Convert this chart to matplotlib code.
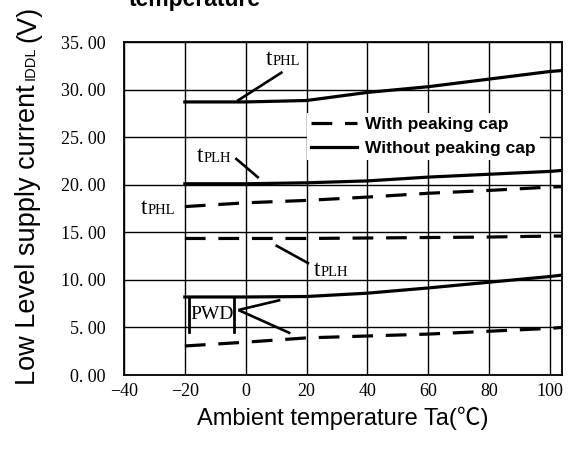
"""Supply current vs ambient temperature, with/without peaking cap."""

import matplotlib

matplotlib.use("Agg")
import matplotlib.pyplot as plt  # noqa: E402
from matplotlib.lines import Line2D  # noqa: E402

# ---- data ----
TEMP = [-20, 0, 20, 40, 60, 80, 100, 104]

NO_CAP_TPHL = [28.7, 28.7, 28.85, 29.7, 30.3, 31.1, 31.9, 32.0]
NO_CAP_TPLH = [20.1, 20.1, 20.2, 20.4, 20.8, 21.1, 21.4, 21.5]
NO_CAP_PWD = [8.2, 8.2, 8.25, 8.6, 9.15, 9.75, 10.35, 10.5]

CAP_TPHL = [17.7, 18.1, 18.35, 18.7, 19.1, 19.4, 19.75, 19.8]
CAP_TPLH = [14.35, 14.35, 14.35, 14.4, 14.45, 14.5, 14.6, 14.6]
CAP_PWD = [3.05, 3.45, 3.9, 4.1, 4.3, 4.6, 4.9, 5.0]

X_TICKS = [-40, -20, 0, 20, 40, 60, 80, 100]
X_TICK_LABELS = ["\u221240", "\u221220", "0", "20", "40", "60", "80", "100"]
Y_TICKS = [0, 5, 10, 15, 20, 25, 30, 35]
Y_TICK_LABELS = ["0. 00", "5. 00", "10. 00", "15. 00", "20. 00", "25. 00", "30. 00", "35. 00"]

SANS = ["Liberation Sans", "Noto Sans CJK SC", "DejaVu Sans"]
SERIF = ["Liberation Serif", "DejaVu Serif"]
DASH = (0, (6.5, 4))
W, H = 568, 451


def px(x, y):
    """figure pixel (from top-left) -> figure fraction"""
    return x / W, (H - y) / H


def tlabel(ax, x, y, sub):
    """big 't' followed by a small 'PHL'/'PLH', like the datasheet."""
    t = ax.text(x, y, "t", family=SERIF, fontsize=17, va="baseline", ha="left")
    fig = ax.figure
    fig.canvas.draw()
    bb = t.get_window_extent()
    xd, _ = ax.transData.inverted().transform((bb.x1 + 0.5, bb.y0))
    ax.text(xd, y, sub, family=SERIF, fontsize=10.5, va="baseline", ha="left")


def leader(ax, x0, y0, x1, y1):
    ax.plot([x0, x1], [y0, y1], color="black", lw=1.9, solid_capstyle="butt",
            clip_on=False)


fig = plt.figure(figsize=(W / 100, H / 100), dpi=100)
l, b = px(124, 375)
r, t = px(562, 42)
ax = fig.add_axes([l, b, r - l, t - b])

ax.set_xlim(-40, 104)
ax.set_ylim(0, 35)
ax.set_xticks(X_TICKS)
ax.set_xticklabels(X_TICK_LABELS, family=SERIF, fontsize=13)
ax.set_yticks(Y_TICKS)
ax.set_yticklabels(Y_TICK_LABELS, family=SERIF, fontsize=13)
ax.tick_params(axis="x", length=0, pad=6)
ax.tick_params(axis="y", length=0, pad=13)
ax.grid(True, color="black", lw=1.0)
ax.set_axisbelow(True)
for s in ax.spines.values():
    s.set_linewidth(1.3)

lw = 2.3
ax.plot(TEMP, NO_CAP_TPHL, color="black", lw=lw)
ax.plot(TEMP, NO_CAP_TPLH, color="black", lw=lw)
ax.plot(TEMP, NO_CAP_PWD, color="black", lw=lw)
ax.plot(TEMP, CAP_TPHL, color="black", lw=lw, ls=DASH)
ax.plot(TEMP, CAP_TPLH, color="black", lw=lw, ls=DASH)
ax.plot(TEMP, CAP_PWD, color="black", lw=lw, ls=DASH)

# annotations
tlabel(ax, 6.6, 32.6, "PHL")
leader(ax, 12.1, 31.85, -2.8, 28.8)
tlabel(ax, -16.0, 22.4, "PLH")
leader(ax, -3.4, 22.8, 4.3, 20.7)
tlabel(ax, -34.5, 16.9, "PHL")
tlabel(ax, 22.3, 10.4, "PLH")
leader(ax, 9.85, 13.64, 20.85, 11.7)

# PWD bracket
for xb in (-18.6, -3.8):
    ax.plot([xb, xb], [8.2, 4.5], color="black", lw=2.0)
ax.text(-11.2, 6.4, "PWD", family=SERIF, fontsize=14, ha="center", va="center")
leader(ax, -2.4, 6.83, 11.4, 7.88)
leader(ax, -2.4, 6.83, 14.7, 4.38)

handles = [
    Line2D([], [], color="black", lw=lw, ls=DASH),
    Line2D([], [], color="black", lw=lw),
]
leg = ax.legend(handles, ["With peaking cap", "Without peaking cap"],
                loc="upper left", bbox_to_anchor=(0.418, 0.788), borderaxespad=0,
                prop=dict(family=SANS, size=12.5, weight="bold"),
                frameon=True, framealpha=1.0, edgecolor="none", facecolor="white",
                handlelength=2.6, handletextpad=0.5, labelspacing=0.5,
                borderpad=0.25, fancybox=False)
leg.set_zorder(5)

# axis labels
fig.text(*px(343, 418), "Ambient temperature Ta(\u2103)", family=SANS, fontsize=17,
         ha="center", va="center")
fig.text(*px(195, 6), "temperature", family=SANS, fontsize=16.5, weight="bold",
         ha="center", va="baseline")

# y label built from pieces so IDDL can be smaller
fig.canvas.draw()
y0 = 385
pieces = [("Low Level supply current", 19.5, 4), ("IDDL", 10.5, 5), ("(V)", 19.5, 0)]
for txt, fs, gap in pieces:
    tt = fig.text(*px(35, y0), txt, family=SANS, fontsize=fs, rotation=90,
                  rotation_mode="anchor", ha="left", va="baseline")
    fig.canvas.draw()
    bb = tt.get_window_extent()
    y0 = H - bb.y1 - gap

fig.savefig("out.png", dpi=100)
